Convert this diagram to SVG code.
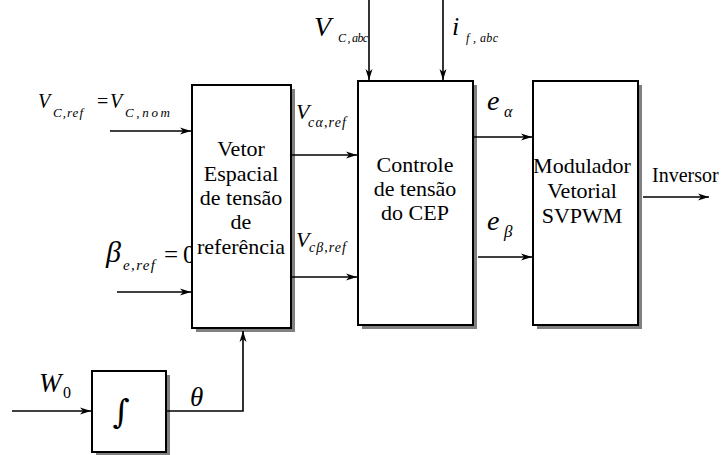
<svg xmlns="http://www.w3.org/2000/svg" width="726" height="455" viewBox="0 0 726 455">
<style>
.sh{fill:#808080;stroke:none}
.bx{fill:#fff;stroke:#000;stroke-width:2}
.ar{fill:none;stroke:#000;stroke-width:1.6;marker-end:url(#ah)}
</style>
<defs>
<marker id="ah" markerWidth="12" markerHeight="8" refX="11" refY="4" orient="auto" markerUnits="userSpaceOnUse">
<path d="M0,0.5 L11,4 L0,7.5 L3,4 Z" fill="#000"/>
</marker>
</defs>
<rect width="726" height="455" fill="#fff"/>
<g id="labels" font-family="Liberation Serif, serif" fill="#000">
<g font-style="italic">
<text x="38" y="108" font-size="20">V</text>
<text x="53" y="117" font-size="13" textLength="30" lengthAdjust="spacing">C,ref</text>
<text x="110" y="108" font-size="20">V</text>
<text x="125" y="117" font-size="13" textLength="45" lengthAdjust="spacing">C,nom</text>
<text x="106" y="262" font-size="30">β</text>
<text x="123" y="270" font-size="15" textLength="32" lengthAdjust="spacing">e,ref</text>
<text x="314" y="36" font-size="28">V</text>
<text x="338" y="42" font-size="12" textLength="30" lengthAdjust="spacing">C , abc</text>
<text x="452" y="35" font-size="26">i</text>
<text x="466" y="42" font-size="12" textLength="32" lengthAdjust="spacing">f , abc</text>
<text x="296" y="119" font-size="22">V</text>
<text x="308" y="127" font-size="14" textLength="38" lengthAdjust="spacing">cα,ref</text>
<text x="296" y="247" font-size="22">V</text>
<text x="309" y="252" font-size="14" textLength="37" lengthAdjust="spacing">cβ,ref</text>
<text x="487" y="110" font-size="28">e</text>
<text x="504" y="117" font-size="16">α</text>
<text x="487" y="230" font-size="28">e</text>
<text x="504" y="237" font-size="17">β</text>
<text x="39" y="392" font-size="27">W</text>
<text x="190" y="406" font-size="27">θ</text>
</g>
<text x="63" y="398" font-size="16">0</text>
<text x="97" y="108" font-size="20">=</text>
<text x="164" y="263" font-size="25">=</text>
<text x="183" y="263" font-size="25">0</text>
<text x="652" y="182" font-size="20">Inversor</text>
</g>
<g id="node-vetor" font-family="Liberation Serif, serif" font-size="22" text-anchor="middle">
<rect class="sh" x="196" y="89" width="99" height="243"/>
<rect class="bx" x="192" y="85" width="99" height="243"/>
<text x="241" y="156">Vetor</text>
<text x="241" y="181">Espacial</text>
<text x="241" y="205">de tensão</text>
<text x="241" y="229">de</text>
<text x="241" y="254">referência</text>
</g>
<g id="node-controle" font-family="Liberation Serif, serif" font-size="22" text-anchor="middle">
<rect class="sh" x="362" y="85" width="115" height="244"/>
<rect class="bx" x="358" y="81" width="115" height="244"/>
<text x="415" y="172">Controle</text>
<text x="415" y="196">de tensão</text>
<text x="415" y="220">do CEP</text>
</g>
<g id="node-modulador" font-family="Liberation Serif, serif" font-size="22" text-anchor="middle">
<rect class="sh" x="537" y="85" width="105" height="244"/>
<rect class="bx" x="533" y="81" width="105" height="244"/>
<text x="582" y="173">Modulador</text>
<text x="582" y="198">Vetorial</text>
<text x="582" y="223">SVPWM</text>
</g>
<g id="node-integrador">
<rect class="sh" x="96" y="375" width="74" height="81"/>
<rect class="bx" x="92" y="371" width="74" height="81"/>
<text x="121" y="423" font-family="DejaVu Serif, serif" font-size="33" text-anchor="middle">∫</text>
</g>
<g id="connectors">
<line class="ar" x1="110" y1="131" x2="191" y2="131"/>
<line class="ar" x1="117" y1="292" x2="191" y2="292"/>
<line class="ar" x1="292" y1="155" x2="357" y2="155"/>
<line class="ar" x1="292" y1="277" x2="357" y2="277"/>
<line class="ar" x1="369" y1="0" x2="369" y2="80"/>
<line class="ar" x1="443" y1="0" x2="443" y2="80"/>
<line class="ar" x1="474" y1="137" x2="532" y2="137"/>
<line class="ar" x1="478" y1="257" x2="532" y2="257"/>
<line class="ar" x1="643" y1="197" x2="709" y2="197"/>
<line class="ar" x1="12" y1="411" x2="91" y2="411"/>
<polyline class="ar" points="167,411 243,411 243,331"/>
</g>
</svg>
